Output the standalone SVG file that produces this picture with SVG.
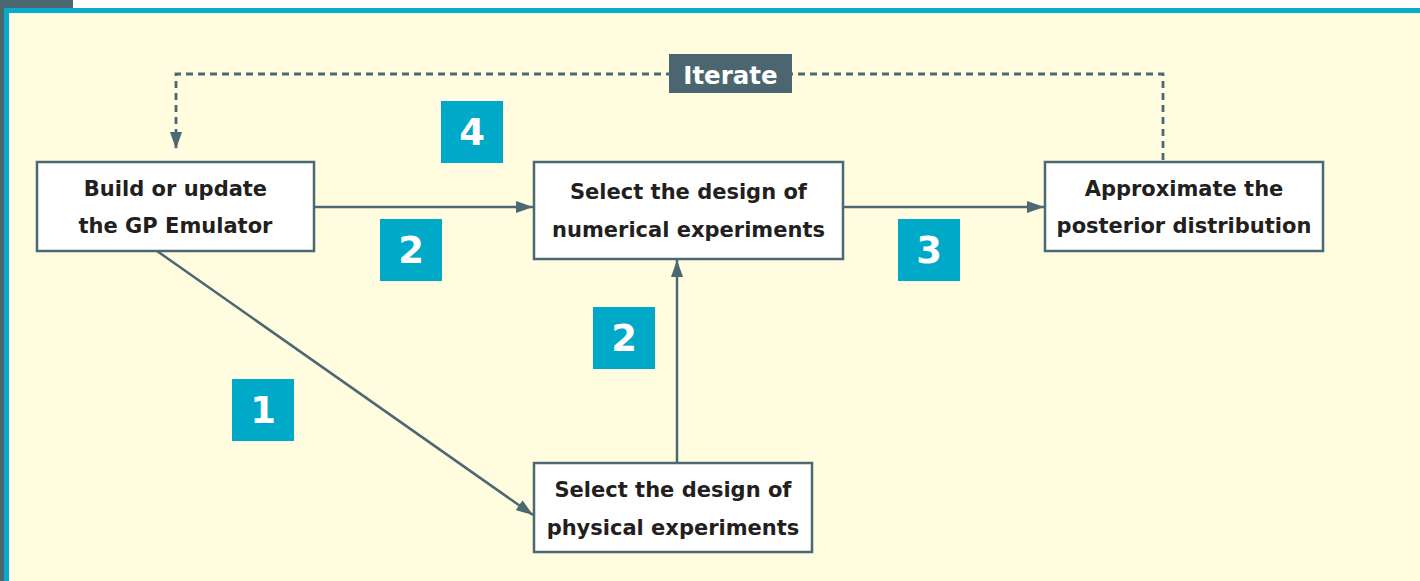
<svg xmlns="http://www.w3.org/2000/svg" width="1420" height="581" viewBox="0 0 1420 581">
<defs>
<style>
.node rect{fill:#ffffff;stroke:#4b6873;stroke-width:2.5}
.node text{font-family:"DejaVu Sans",Verdana,sans-serif;font-weight:bold;font-size:21px;fill:#231f20;text-anchor:middle}
.badge rect{fill:#00a9c7}
.badge text{font-family:"DejaVu Sans",Verdana,sans-serif;font-weight:bold;font-size:37px;fill:#ffffff;text-anchor:middle}
.conn{stroke:#4b6873;stroke-width:2.5;fill:none}
.dash{stroke-dasharray:7 5;stroke-width:2.8}
</style>
<marker id="arr" viewBox="0 0 17 12" refX="17" refY="6" markerWidth="17" markerHeight="12" markerUnits="userSpaceOnUse" orient="auto">
<path d="M0,0 L17,6 L0,12 Z" fill="#4b6873"/>
</marker>
</defs>
<rect x="0" y="0" width="1420" height="581" fill="#ffffff"/>
<rect x="0" y="0" width="73" height="581" fill="#4b6670"/>
<rect x="4" y="8" width="1416" height="573" fill="#0aaac8"/>
<rect x="9" y="13" width="1411" height="568" fill="#e8f6ef"/>
<rect x="10" y="14" width="1410" height="567" fill="#fffcdf"/>

<g id="connectors">
<path class="conn dash" d="M1163,160 V74 H176 V149" marker-end="url(#arr)"/>
<line class="conn" x1="315" y1="207" x2="533" y2="207" marker-end="url(#arr)"/>
<line class="conn" x1="843" y1="207" x2="1044" y2="207" marker-end="url(#arr)"/>
<line class="conn" x1="677" y1="463" x2="677" y2="260" marker-end="url(#arr)"/>
<line class="conn" x1="157" y1="251" x2="533" y2="515" marker-end="url(#arr)"/>
</g>

<g id="iterate">
<rect x="669" y="54" width="123" height="39" fill="#4b6670"/>
<text x="730.5" y="84" font-family="DejaVu Sans,Verdana,sans-serif" font-weight="bold" font-size="24.5" fill="#ffffff" text-anchor="middle">Iterate</text>
</g>

<g id="node-build" class="node">
<rect x="37" y="162" width="277" height="89"/>
<text x="175.5" y="196">Build or update</text>
<text x="175.5" y="233">the GP Emulator</text>
</g>
<g id="node-numerical" class="node">
<rect x="534" y="162" width="309" height="97"/>
<text x="688.5" y="199">Select the design of</text>
<text x="688.5" y="237">numerical experiments</text>
</g>
<g id="node-approx" class="node">
<rect x="1045" y="162" width="278" height="89"/>
<text x="1184" y="196">Approximate the</text>
<text x="1184" y="233">posterior distribution</text>
</g>
<g id="node-physical" class="node">
<rect x="534" y="463" width="278" height="89"/>
<text x="673" y="497">Select the design of</text>
<text x="673" y="535">physical experiments</text>
</g>

<g id="badge-4" class="badge"><rect x="441" y="101" width="62" height="62"/><text x="472" y="145">4</text></g>
<g id="badge-2a" class="badge"><rect x="380" y="219" width="62" height="62"/><text x="411" y="263">2</text></g>
<g id="badge-3" class="badge"><rect x="898" y="219" width="62" height="62"/><text x="929" y="263">3</text></g>
<g id="badge-2b" class="badge"><rect x="593" y="307" width="62" height="62"/><text x="624" y="351">2</text></g>
<g id="badge-1" class="badge"><rect x="232" y="379" width="62" height="62"/><text x="263" y="423">1</text></g>
</svg>
